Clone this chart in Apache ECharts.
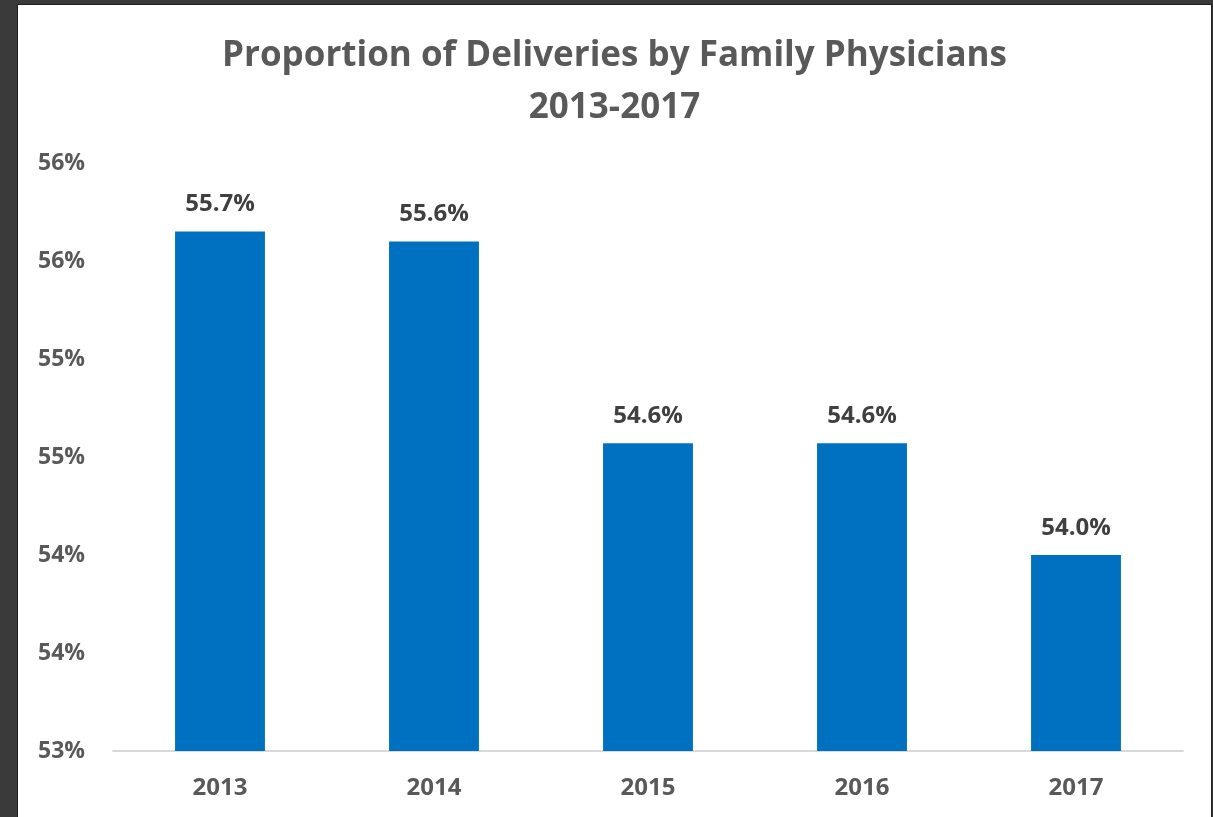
<!DOCTYPE html>
<html>
<head>
<meta charset="utf-8">
<script src="https://cdn.jsdelivr.net/npm/echarts@6/dist/echarts.min.js"></script>
<style>
html,body{margin:0;padding:0;background:#3a3a3a;width:1213px;height:817px;overflow:hidden;}
#frame{position:absolute;left:17px;top:4px;width:1195px;height:813px;background:#1e1e1e;}
#chart{position:absolute;left:18px;top:5px;width:1193px;height:812px;background:#ffffff;}
</style>
</head>
<body>
<div id="frame"></div>
<div id="chart"></div>
<script>
const titleLines = ['Proportion of Deliveries by Family Physicians', '2013-2017'];
const years = ['2013', '2014', '2015', '2016', '2017'];
const shares = [55.65, 55.6, 54.57, 54.57, 54.0];
const yMin = 53, yMax = 56, yStep = 0.5;

const FONT = 'Open Sans';
const chart = echarts.init(document.getElementById('chart'));
chart.setOption({
  backgroundColor: '#ffffff',
  animation: false,
  title: {
    text: titleLines.join('\n'),
    left: 'center',
    top: 20,
    textStyle: {fontFamily: FONT, fontSize: 35, fontWeight: 'bold', color: '#595959', lineHeight: 52}
  },
  grid: {left: 95, right: 28, top: 158, bottom: 66},
  xAxis: {
    type: 'category',
    data: years,
    axisLine: {lineStyle: {color: '#d9d9d9', width: 2}},
    axisTick: {show: false},
    axisLabel: {fontFamily: FONT, fontSize: 24, fontWeight: 'bold', color: '#595959', margin: 25}
  },
  yAxis: {
    type: 'value',
    min: yMin, max: yMax, interval: yStep,
    splitLine: {show: false},
    axisLine: {show: false},
    axisTick: {show: false},
    axisLabel: {
      fontFamily: FONT, fontSize: 23, fontWeight: 'bold', color: '#595959', margin: 28,
      formatter: v => Math.round(v) + '%'
    }
  },
  series: [{
    type: 'bar',
    data: shares,
    barWidth: '42%',
    itemStyle: {color: '#0070c0'},
    label: {
      show: true, position: 'top', distance: 15,
      fontFamily: FONT, fontSize: 24, fontWeight: 'bold', color: '#404040',
      formatter: p => (Math.round(p.value * 10 + 1e-6) / 10).toFixed(1) + '%'
    }
  }]
});
</script>
</body>
</html>
